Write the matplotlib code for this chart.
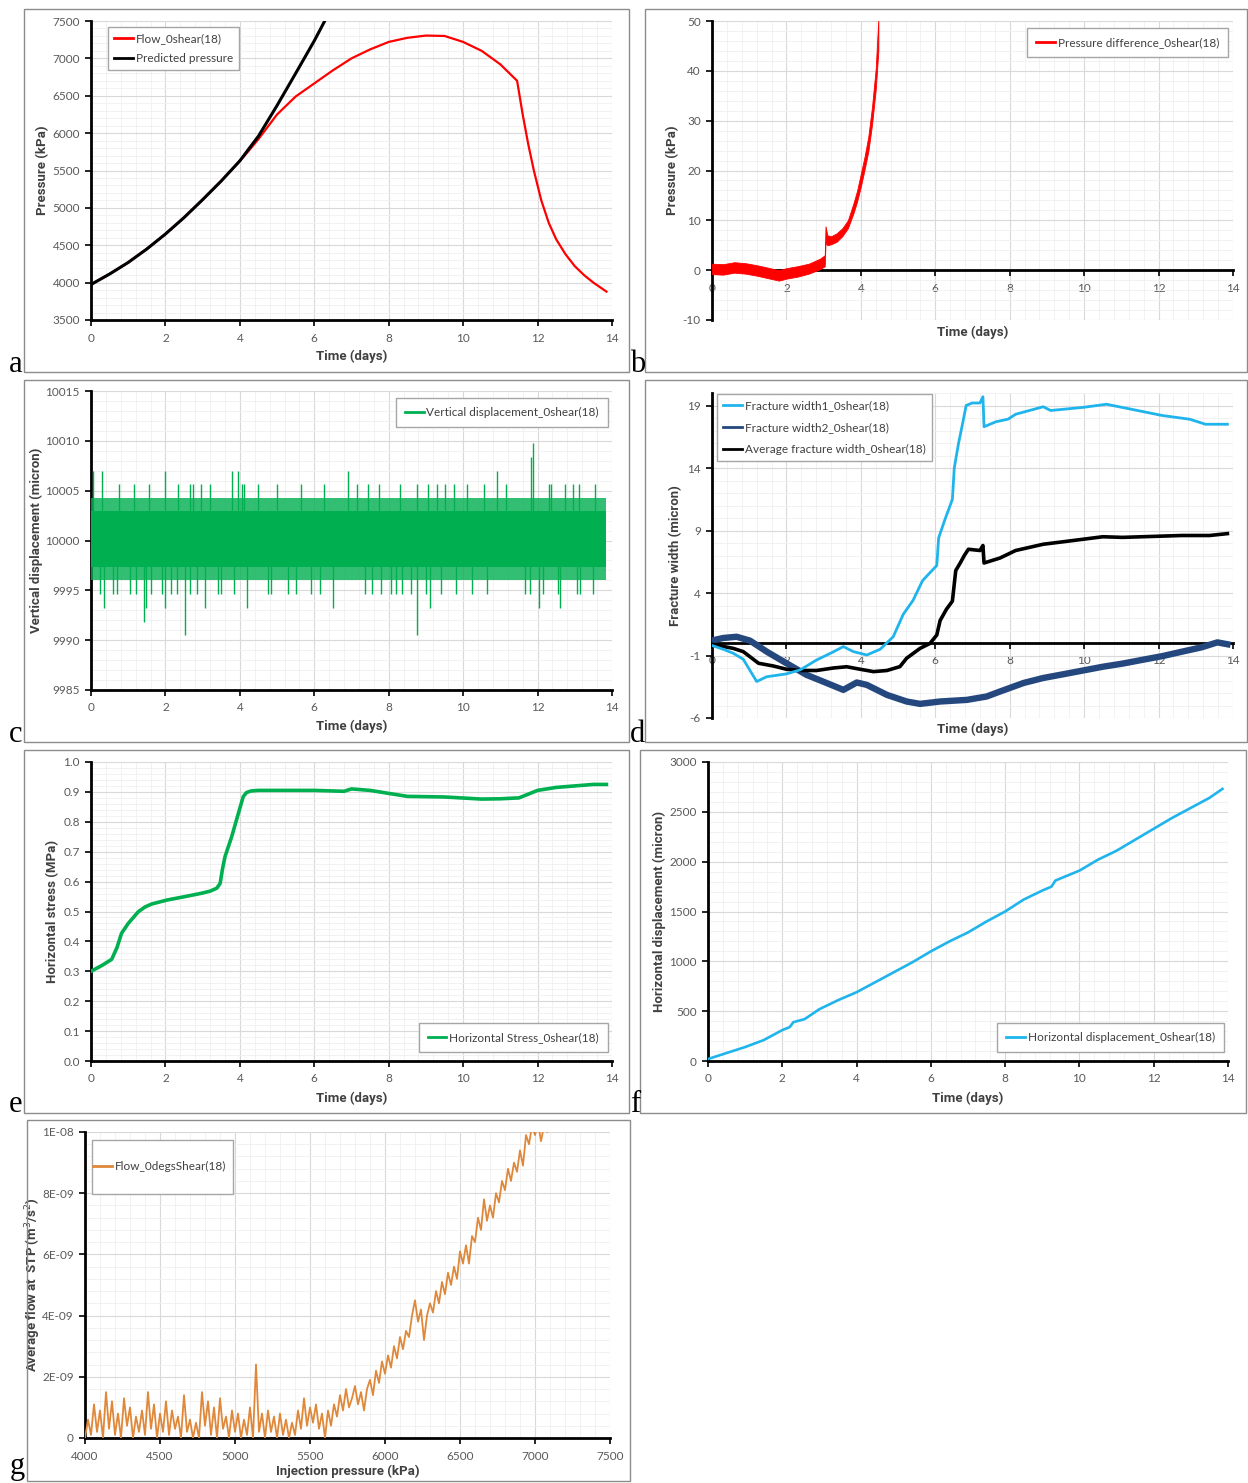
import numpy as np
import matplotlib
matplotlib.use("Agg")
import matplotlib.pyplot as plt
from matplotlib.ticker import MultipleLocator, AutoMinorLocator, FixedLocator, FuncFormatter
from matplotlib.patches import Rectangle

plt.rcParams['font.family'] = ['Lato', 'Liberation Sans', 'DejaVu Sans']
plt.rcParams['axes.unicode_minus'] = False
LABEL_FONT = ['Roboto', 'Liberation Sans', 'DejaVu Sans']

# ---------------- data ----------------
# (a) injection pressure vs time
pred_time = [0, 0.5, 1, 1.5, 2, 2.5, 3, 3.5, 4, 4.5, 5, 5.5, 6, 6.28]
pred_pressure = [3975, 4115, 4270, 4450, 4650, 4870, 5110, 5360, 5630, 5960, 6370, 6800, 7235, 7500]
flow_time = [0, 0.5, 1, 1.5, 2, 2.5, 3, 3.5, 4, 4.3, 4.5, 5, 5.5, 6, 6.5, 7, 7.5, 8, 8.5, 9, 9.5,
             10, 10.5, 11, 11.45, 11.6, 11.75, 11.9, 12.1, 12.3, 12.5, 12.75, 13.0, 13.25, 13.5, 13.85]
flow_pressure = [3975, 4115, 4270, 4450, 4650, 4870, 5110, 5360, 5625, 5800, 5920, 6250, 6490, 6665,
                 6840, 7000, 7120, 7220, 7275, 7305, 7300, 7220, 7100, 6920, 6700, 6250, 5850, 5500,
                 5100, 4800, 4580, 4380, 4220, 4100, 4000, 3880]

# (b) pressure difference (noise envelope)
pd_time = [0.0, 0.3, 0.6, 0.9, 1.2, 1.5, 1.8, 2.0, 2.3, 2.6, 2.9, 3.03, 3.05, 3.1, 3.2, 3.35, 3.5,
           3.65, 3.8, 3.9, 4.0, 4.1, 4.2, 4.3, 4.4, 4.47]
pd_low = [-0.8, -0.9, -0.5, -0.7, -1.1, -1.6, -2.1, -1.7, -1.3, -0.7, 0.2, 0.8, 5.5, 5.0, 5.2, 5.7,
          6.8, 8.4, 11.4, 13.8, 16.8, 20.2, 23.8, 29.2, 36.3, 44.0]
pd_high = [1.3, 1.2, 1.6, 1.4, 1.0, 0.5, 0.0, 0.4, 0.8, 1.3, 2.3, 3.0, 8.8, 7.0, 6.8, 7.4, 8.4,
           10.0, 13.4, 16.0, 19.4, 22.8, 26.8, 32.8, 40.5, 50.5]

# (c) vertical displacement: dense band plus isolated spikes
vd_band_time = [0.0, 13.85]
vd_outer_low = [9996.0, 9996.0]
vd_outer_high = [10004.3, 10004.3]
vd_core_low = [9997.3, 9997.3]
vd_core_high = [10003.0, 10003.0]
vd_up_time = [0.05, 0.3, 0.75, 1.15, 1.55, 2.0, 2.35, 2.65, 2.75, 2.95, 3.2, 3.8, 3.95, 4.05, 4.1,
              4.5, 5.0, 5.65, 6.25, 6.9, 7.15, 7.45, 7.75, 8.3, 8.75, 9.05, 9.3, 9.5, 9.75, 10.1,
              10.55, 10.9, 11.15, 11.82, 11.88, 12.3, 12.35, 12.75, 12.95, 13.1, 13.55]
vd_up_value = [10007.0, 10007.0, 10005.7, 10005.7, 10005.7, 10007.0, 10005.7, 10005.7, 10005.7,
               10005.7, 10005.7, 10007.0, 10007.0, 10005.7, 10005.7, 10005.7, 10005.7, 10005.7,
               10005.7, 10007.0, 10005.7, 10005.7, 10005.7, 10005.7, 10005.7, 10005.7, 10005.7,
               10005.7, 10005.7, 10005.7, 10005.7, 10007.0, 10005.7, 10008.4, 10009.8, 10005.7,
               10005.7, 10005.7, 10005.7, 10005.7, 10005.7]
vd_down_time = [0.25, 0.35, 0.6, 0.7, 1.05, 1.2, 1.42, 1.48, 1.6, 1.9, 2.0, 2.15, 2.3, 2.52, 2.65,
                2.85, 3.05, 3.4, 3.5, 3.85, 4.2, 4.75, 4.85, 5.3, 5.5, 5.9, 6.15, 6.5, 7.35, 7.55,
                7.8, 8.05, 8.2, 8.35, 8.6, 8.75, 9.0, 9.1, 9.4, 9.8, 10.25, 10.65, 11.65, 11.8,
                12.05, 12.15, 12.55, 12.6, 13.05, 13.15, 13.5]
vd_down_value = [9994.6, 9993.2, 9994.6, 9994.6, 9994.6, 9994.6, 9991.8, 9993.2, 9994.6, 9994.6,
                 9993.2, 9994.6, 9994.6, 9990.5, 9994.6, 9994.6, 9993.2, 9994.6, 9994.6, 9994.6,
                 9993.2, 9994.6, 9994.6, 9994.6, 9994.6, 9994.6, 9994.6, 9993.2, 9994.6, 9994.6,
                 9994.6, 9994.6, 9994.6, 9994.6, 9994.6, 9990.5, 9994.6, 9993.2, 9994.6, 9994.6,
                 9994.6, 9994.6, 9994.6, 9994.6, 9993.2, 9994.6, 9994.6, 9993.2, 9994.6, 9994.6,
                 9994.6]

# (d) fracture widths
fw1_time = [0, 0.3, 0.57, 0.84, 1.2, 1.47, 2.0, 2.37, 2.81, 3.2, 3.53, 3.8, 4.16, 4.52, 4.87,
            5.14, 5.4, 5.66, 6.04, 6.09, 6.25, 6.46, 6.51, 6.62, 6.73, 6.83, 6.99, 7.2, 7.28,
            7.31, 7.63, 7.95, 8.16, 8.9, 9.1, 9.97, 10.6, 11.35, 12.1, 12.84, 13.26, 13.85]
fw1_value = [-0.2, -0.5, -0.82, -1.3, -3.08, -2.7, -2.47, -2.15, -1.36, -0.8, -0.29, -0.69, -0.96,
             -0.5, 0.5, 2.3, 3.4, 5.0, 6.2, 8.4, 9.8, 11.5, 14.0, 15.9, 17.5, 19.0, 19.2, 19.2,
             19.7, 17.3, 17.7, 17.9, 18.3, 18.9, 18.6, 18.85, 19.1, 18.65, 18.2, 17.9, 17.5, 17.5]
fw2_time = [0, 0.3, 0.66, 1.02, 1.47, 2.0, 2.54, 3.08, 3.53, 3.89, 4.16, 4.7, 5.23, 5.59, 6.13,
            6.85, 7.38, 7.74, 8.37, 8.9, 9.44, 9.97, 10.5, 11.03, 11.56, 12.1, 12.62, 13.15,
            13.58, 13.85]
fw2_value = [0.2, 0.4, 0.5, 0.19, -0.69, -1.62, -2.55, -3.2, -3.75, -3.16, -3.35, -4.15, -4.68,
             -4.87, -4.68, -4.55, -4.28, -3.88, -3.2, -2.8, -2.5, -2.2, -1.9, -1.65, -1.35, -1.05,
             -0.7, -0.35, 0.05, -0.1]
fwa_time = [0, 0.57, 0.84, 1.25, 1.65, 2.0, 2.37, 2.81, 3.26, 3.62, 3.98, 4.34, 4.7, 5.05, 5.23,
            5.59, 5.86, 6.04, 6.13, 6.3, 6.46, 6.55, 6.67, 6.78, 6.89, 7.2, 7.28, 7.31, 7.74, 8.16,
            8.9, 9.44, 9.97, 10.5, 11.03, 11.56, 12.62, 13.37, 13.85]
fwa_value = [-0.1, -0.43, -0.69, -1.62, -1.84, -2.1, -2.2, -2.2, -2.0, -1.9, -2.1, -2.29, -2.2,
             -1.89, -1.22, -0.43, -0.03, 0.64, 1.8, 2.7, 3.35, 5.8, 6.4, 7.0, 7.5, 7.4, 7.8, 6.4,
             6.8, 7.4, 7.9, 8.1, 8.3, 8.5, 8.45, 8.5, 8.6, 8.6, 8.75]

# (e) horizontal stress
hs_time = [0, 0.3, 0.556, 0.7, 0.82, 1.0, 1.27, 1.45, 1.63, 2.03, 2.53, 2.97, 3.2, 3.38, 3.47,
           3.53, 3.6, 3.78, 3.96, 4.09, 4.18, 4.3, 4.5, 5.0, 6.0, 6.8, 7.0, 7.5, 8.0, 8.5, 9.5,
           10.5, 11.0, 11.5, 12.0, 12.5, 13.0, 13.5, 13.85]
hs_value = [0.30, 0.32, 0.34, 0.38, 0.427, 0.46, 0.499, 0.515, 0.525, 0.538, 0.55, 0.561, 0.568,
            0.578, 0.594, 0.64, 0.683, 0.75, 0.828, 0.884, 0.898, 0.903, 0.905, 0.905, 0.905,
            0.902, 0.91, 0.905, 0.895, 0.885, 0.883, 0.876, 0.877, 0.88, 0.905, 0.915, 0.92,
            0.925, 0.925]

# (f) horizontal displacement
hd_time = [0, 0.5, 1, 1.5, 2, 2.2, 2.3, 2.6, 3, 3.5, 4, 4.5, 5, 5.5, 6, 6.5, 7, 7.5, 8, 8.5, 9,
           9.25, 9.35, 10, 10.5, 11, 11.5, 12, 12.5, 13, 13.5, 13.85]
hd_value = [20, 80, 140, 210, 310, 340, 390, 420, 520, 610, 690, 790, 890, 990, 1100, 1200, 1290,
            1400, 1500, 1620, 1710, 1750, 1810, 1910, 2020, 2110, 2220, 2330, 2440, 2540, 2640,
            2730]

# (g) average flow vs injection pressure, sampled every 20 kPa (units of 1e-10 m3/s)
inj_pressure = np.arange(4000, 7101, 20)
avg_flow_e10 = [
    0, 6, 1, 11, 2, 9, 0, 15, 3, 12, 1, 8, 0, 13, 4, 10, 0, 7, 2, 9, 1, 15, 3, 11, 0, 8, 2, 12, 1, 9,
    3, 7, 0, 14, 2, 6, 0, 5, 0, 15, 4, 12, 1, 10, 0, 13, 3, 7, 0, 9, 2, 8, 0, 6, 1, 10, 0, 24, 2, 8,
    0, 9, 2, 7, 0, 8, 1, 6, 0, 5, 1, 9, 3, 13, 4, 10, 5, 11, 3, 8, 0, 9, 4, 11, 7, 14, 9, 16, 10, 13,
    17, 11, 15, 9, 16, 19, 14, 22, 18, 25, 21, 27, 23, 30, 26, 33, 29, 35, 33, 40, 45, 38, 42, 32, 40,
    44, 41, 48, 44, 51,
    47, 54, 50, 56, 52, 61, 57, 63, 57, 66, 64, 72, 68, 78, 71, 76, 72, 80, 77, 84, 81, 88, 84, 90,
    87, 94, 89, 99, 96, 102,
    99, 103, 97, 102, 100, 101]

# ---------------- figure ----------------
W, H = 1248, 1483
fig = plt.figure(figsize=(W / 100, H / 100), dpi=100)

TICK_C = '#595959'
LABEL_C = '#404040'
LEGEND_EDGE = '#a6a6a6'


def add_axes(left, top, right, bottom):
    return fig.add_axes([left / W, 1 - bottom / H, (right - left) / W, (bottom - top) / H])


def frame(x0, y0, x1, y1):
    fig.add_artist(Rectangle((x0 / W, 1 - y1 / H), (x1 - x0) / W, (y1 - y0) / H,
                             transform=fig.transFigure, fill=False, edgecolor='#8c8c8c', lw=1.0))


def letter(x, y, s):
    fig.text(x / W, 1 - y / H, s, fontsize=22, family=['Liberation Serif', 'DejaVu Serif'],
             va='baseline', ha='left')


def style(ax, xlim, ylim, xstep, yticks, xlabel, ylabel, xlab_y, ylab_x, xaxis_at=None,
          yfmt=None):
    ax.set_xlim(*xlim)
    ax.set_ylim(*ylim)
    ax.xaxis.set_major_locator(MultipleLocator(xstep))
    ax.yaxis.set_major_locator(FixedLocator(yticks))
    ax.xaxis.set_minor_locator(AutoMinorLocator(5))
    ax.yaxis.set_minor_locator(AutoMinorLocator(5))
    ax.grid(which='major', color='#d9d9d9', lw=0.8)
    ax.grid(which='minor', color='#f0f0f0', lw=0.6)
    ax.set_axisbelow(True)
    for s in ('top', 'right'):
        ax.spines[s].set_visible(False)
    ax.spines['left'].set_linewidth(2.0)
    ax.spines['bottom'].set_linewidth(2.0)
    if xaxis_at is not None:
        ax.spines['bottom'].set_position(('data', xaxis_at))
    ax.tick_params(which='major', length=4, width=1.2, labelsize=8.5, color='black',
                   labelcolor=TICK_C, direction='out')
    ax.tick_params(axis='x', which='major', pad=5)
    ax.tick_params(axis='y', which='major', pad=4)
    ax.tick_params(which='minor', length=0)
    if yfmt is not None:
        ax.yaxis.set_major_formatter(FuncFormatter(yfmt))
    ax.set_xlabel(xlabel, fontsize=9.5, fontweight='bold', color=LABEL_C, family=LABEL_FONT)
    ax.set_ylabel(ylabel, fontsize=9.5, fontweight='bold', color=LABEL_C, family=LABEL_FONT)
    ax.xaxis.set_label_coords(0.5, xlab_y)
    ax.yaxis.set_label_coords(ylab_x, 0.5)


def legend(ax, loc, anchor, handles, labels, frameon=True, **kw):
    leg = ax.legend(handles=handles, labels=labels, loc=loc, bbox_to_anchor=anchor, fontsize=8.5,
                    frameon=frameon, fancybox=False, framealpha=1, edgecolor=LEGEND_EDGE,
                    handlelength=1.6, handletextpad=0.25, borderaxespad=0, **kw)
    leg.get_frame().set_linewidth(1.0)
    for t in leg.get_texts():
        t.set_color(LABEL_C)
    return leg


def handle(color):
    return plt.Line2D([], [], color=color, lw=2)


# panel frames and letters
frame(24, 9, 629, 372)
frame(645, 9, 1247, 372)
frame(24, 380, 629, 742)
frame(645, 380, 1247, 742)
frame(24, 750, 629, 1113)
frame(640, 750, 1246, 1113)
frame(27, 1120, 630, 1481)
letter(9, 372, 'a')
letter(630, 372, 'b')
letter(9, 742, 'c')
letter(630, 742, 'd')
letter(9, 1112, 'e')
letter(630, 1112, 'f')
letter(10, 1474, 'g')

# (a)
ax = add_axes(91, 21, 612, 320)
ax.plot(flow_time, flow_pressure, color='#ff0000', lw=1.6, zorder=3)
ax.plot(pred_time, pred_pressure, color='black', lw=2.2, zorder=4)
style(ax, (0, 14), (3500, 7500), 2, list(range(3500, 7501, 500)), 'Time (days)',
      'Pressure (kPa)', -0.1, -0.081)
legend(ax, 'upper left', (0.033, 0.98), [handle('#ff0000'), handle('black')],
       ['Flow_0shear(18)', 'Predicted pressure'], labelspacing=0.75, borderpad=0.5)

# (b)
ax = add_axes(712, 21, 1233, 320)
ax.fill_between(pd_time, pd_low, pd_high, color='#ff0000', lw=0.6, edgecolor='#ff0000', zorder=3)
style(ax, (0, 14), (-10, 50), 2, list(range(-10, 51, 10)), 'Time (days)', 'Pressure (kPa)',
      -0.02, -0.063, xaxis_at=0)
legend(ax, 'upper right', (0.99, 0.977), [handle('#ff0000')], ['Pressure difference_0shear(18)'],
       borderpad=0.75)

# (c)
ax = add_axes(91, 391, 612, 690)
vd_color = '#00b050'
ax.fill_between(vd_band_time, vd_outer_low, vd_outer_high, color=vd_color, alpha=0.8, lw=0,
                zorder=3)
ax.fill_between(vd_band_time, vd_core_low, vd_core_high, color=vd_color, lw=0, zorder=3)
ax.vlines(vd_up_time, 10000, vd_up_value, color=vd_color, lw=1.0, zorder=3)
ax.vlines(vd_down_time, vd_down_value, 10000, color=vd_color, lw=1.0, zorder=3)
style(ax, (0, 14), (9985, 10015), 2, list(range(9985, 10016, 5)), 'Time (days)',
      'Vertical displacement (micron)', -0.1, -0.092)
legend(ax, 'upper right', (0.992, 0.977), [handle(vd_color)],
       ['Vertical displacement_0shear(18)'], borderpad=0.75)

# (d)
ax = add_axes(712, 393, 1233, 718)
ax.plot(fw2_time, fw2_value, color='#24487d', lw=4.6, zorder=3)
ax.plot(fwa_time, fwa_value, color='black', lw=2.6, zorder=4)
ax.plot(fw1_time, fw1_value, color='#1fb4ec', lw=2.0, zorder=5)
style(ax, (0, 14), (-6, 20), 2, [-6, -1, 4, 9, 14, 19], 'Time (days)',
      'Fracture width (micron)', -0.015, -0.058, xaxis_at=0)
legend(ax, 'upper left', (0.01, 0.997), [handle('#1fb4ec'), handle('#24487d'), handle('black')],
       ['Fracture width1_0shear(18)', 'Fracture width2_0shear(18)',
        'Average fracture width_0shear(18)'], labelspacing=0.95, borderpad=0.5)

# (e)
ax = add_axes(91, 762, 612, 1061)
ax.plot(hs_time, hs_value, color='#00b050', lw=2.6, zorder=3)
style(ax, (0, 14), (0, 1.0), 2, [i / 10 for i in range(11)], 'Time (days)',
      'Horizontal stress (MPa)', -0.104, -0.061, yfmt=lambda v, p: f'{v:.1f}')
legend(ax, 'lower right', (0.992, 0.03), [handle('#00b050')], ['Horizontal Stress_0shear(18)'],
       borderpad=0.75)

# (f)
ax = add_axes(708, 762, 1228, 1061)
ax.plot(hd_time, hd_value, color='#1fb4ec', lw=1.9, zorder=3)
style(ax, (0, 14), (0, 3000), 2, list(range(0, 3001, 500)), 'Time (days)',
      'Horizontal displacement (micron)', -0.104, -0.081)
legend(ax, 'lower right', (0.992, 0.03), [handle('#1fb4ec')],
       ['Horizontal displacement_0shear(18)'], borderpad=0.75)

# (g)
ax = add_axes(85, 1132, 610, 1438)
ax.plot(inj_pressure, np.array(avg_flow_e10) * 1e-10, color='#e0883a', lw=1.3, zorder=3)
style(ax, (4000, 7500), (0, 1e-8), 500, [i * 2e-9 for i in range(6)],
      'Injection pressure (kPa)', 'Average flow at  STP (m$^3$/s$^2$)', -0.088, -0.08,
      yfmt=lambda v, p: '0' if v == 0 else f'{v:.0E}')
# tall legend box with the entry centred vertically
ax.add_patch(Rectangle((0.0133, 0.797), 0.269, 0.177, transform=ax.transAxes, facecolor='white',
                       edgecolor=LEGEND_EDGE, lw=1.0, zorder=6))
leg = legend(ax, 'center left', (0.006, 0.886), [handle('#e0883a')], ['Flow_0degsShear(18)'],
             frameon=False, borderpad=0.4)
leg.set_zorder(7)

fig.savefig('out.png', dpi=100)
